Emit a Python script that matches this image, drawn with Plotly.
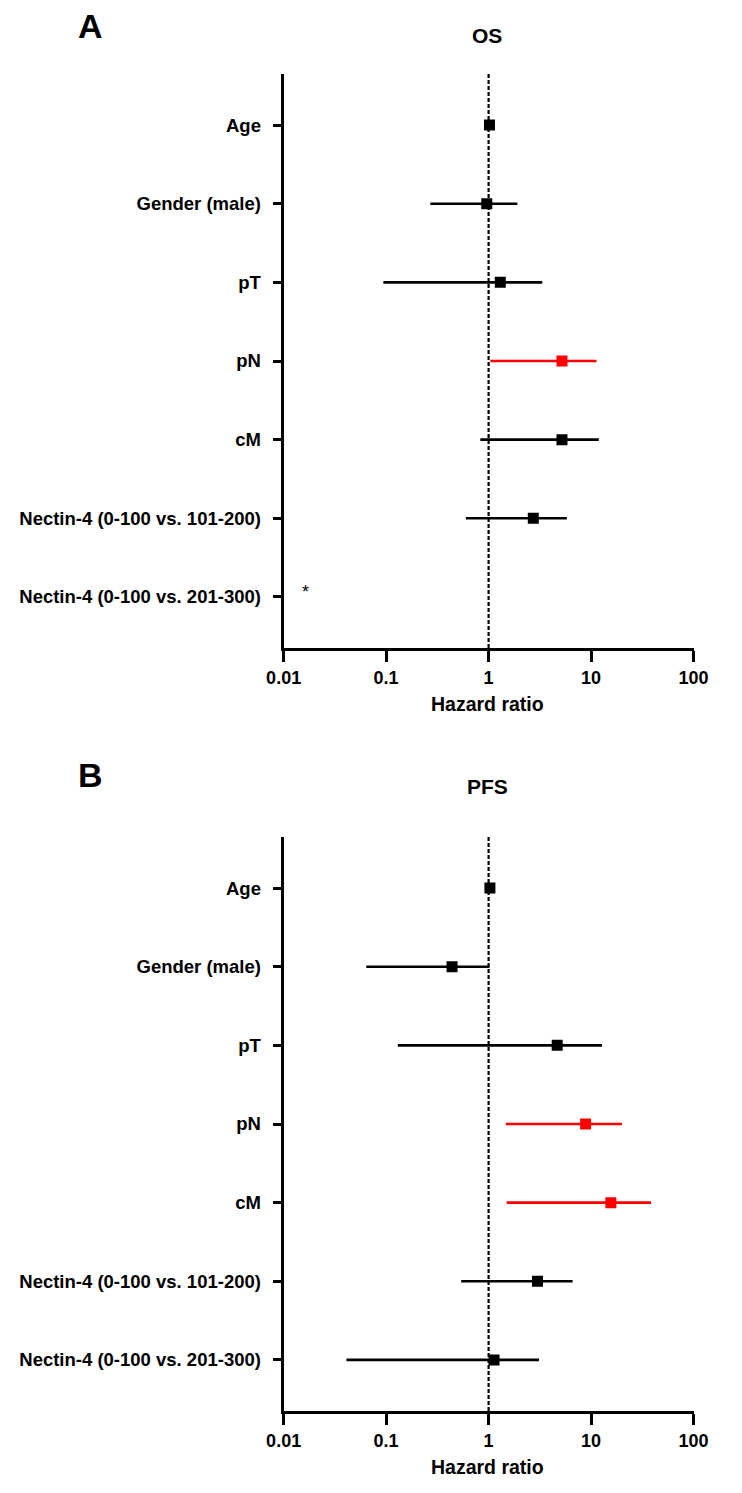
import math
import plotly.graph_objects as go

W, H = 742, 1493

categories = ["Age", "Gender (male)", "pT", "pN", "cM",
              "Nectin-4 (0-100 vs. 101-200)", "Nectin-4 (0-100 vs. 201-300)"]

# OS (panel A) - last category not estimable (*)
os_hr = [1.02, 0.96, 1.30, 5.2, 5.2, 2.73, None]
os_lo = [0.99, 0.27, 0.094, 1.04, 0.83, 0.60, None]
os_hi = [1.05, 1.91, 3.34, 11.3, 11.9, 5.8, None]
os_sig = [False, False, False, True, False, False, False]

# PFS (panel B)
pfs_hr = [1.03, 0.44, 4.67, 8.85, 15.6, 3.0, 1.13]
pfs_lo = [1.00, 0.064, 0.13, 1.47, 1.50, 0.54, 0.041]
pfs_hi = [1.06, 1.02, 12.8, 20.0, 38.5, 6.6, 3.1]
pfs_sig = [False, False, False, True, True, False, False]

x_ticks = [0.01, 0.1, 1, 10, 100]
x_ticktext = ["0.01", "0.1", "1", "10", "100"]

FONT = "Arial, Liberation Sans, sans-serif"
BLACK = "#000000"
RED = "#FF0000"

fig = go.Figure()


def add_panel(hr, lo, hi, sig, xa, ya):
    for color, flag in ((BLACK, False), (RED, True)):
        lx, ly, mx, my = [], [], [], []
        for c, h, l, u, s in zip(categories, hr, lo, hi, sig):
            if h is None or s != flag:
                continue
            lx += [l, u, None]
            ly += [c, c, None]
            mx.append(h)
            my.append(c)
        if mx:
            fig.add_trace(go.Scatter(x=lx, y=ly, mode="lines",
                                     line=dict(color=color, width=2.6),
                                     xaxis=xa, yaxis=ya, showlegend=False,
                                     hoverinfo="skip"))
            fig.add_trace(go.Scatter(x=mx, y=my, mode="markers",
                                     marker=dict(symbol="square", size=11, color=color,
                                                 line=dict(width=0)),
                                     xaxis=xa, yaxis=ya, showlegend=False))


add_panel(os_hr, os_lo, os_hi, os_sig, "x", "y")
add_panel(pfs_hr, pfs_lo, pfs_hi, pfs_sig, "x2", "y2")

xdom = [278 / W, 707 / W]
ydom_top = [1 - 648 / H, 1 - 74 / H]
ydom_bot = [1 - 1411 / H, 1 - 837 / H]

xaxis_common = dict(
    type="log", range=[-2, 2], tickvals=x_ticks, ticktext=x_ticktext,
    showline=True, linecolor=BLACK, linewidth=3, mirror=False,
    ticks="outside", ticklen=11, tickwidth=3, tickcolor=BLACK,
    showgrid=False, zeroline=False,
    tickfont=dict(family=FONT, size=18, color=BLACK, weight="bold"),
    domain=xdom, fixedrange=True,
)
yaxis_common = dict(
    type="category", categoryorder="array", categoryarray=categories,
    range=[6.65, -0.65],
    showline=True, linecolor=BLACK, linewidth=3,
    ticks="outside", ticklen=8, tickwidth=3, tickcolor=BLACK,
    ticklabelstandoff=8,
    showgrid=False, zeroline=False,
    tickfont=dict(family=FONT, size=18.5, color=BLACK, weight="bold"),
    fixedrange=True,
)

fig.update_layout(
    width=W, height=H, autosize=False,
    margin=dict(l=0, r=0, t=0, b=0),
    paper_bgcolor="white", plot_bgcolor="white",
    xaxis=dict(**xaxis_common, anchor="y"),
    yaxis=dict(**yaxis_common, domain=ydom_top, anchor="x"),
    xaxis2=dict(**xaxis_common, anchor="y2"),
    yaxis2=dict(**yaxis_common, domain=ydom_bot, anchor="x2"),
)

# dotted reference line at HR = 1
for xa, ya in (("x", "y"), ("x2", "y2")):
    fig.add_shape(type="line", xref=xa, yref=f"{ya} domain", x0=1, x1=1, y0=0, y1=1,
                  line=dict(color=BLACK, width=2.2, dash="4px,2px"), layer="below")

# asterisk for non-estimable estimate (OS, last row)
fig.add_annotation(x=math.log10(0.0163), y=categories[6], xref="x", yref="y",
                   text="*", showarrow=False, yshift=5,
                   font=dict(family=FONT, size=18, color=BLACK))


def paper_text(px, py, text, size):
    fig.add_annotation(x=px / W, y=1 - py / H, xref="paper", yref="paper",
                       text=f"<b>{text}</b>", showarrow=False,
                       xanchor="center", yanchor="middle",
                       font=dict(family=FONT, size=size, color=BLACK))


paper_text(76, 26, "A", 34)
paper_text(491, 36, "OS", 21)
paper_text(76, 775, "B", 34)
paper_text(491, 786, "PFS", 21)
paper_text(491, 704, "Hazard ratio", 19.5)
paper_text(491, 1467, "Hazard ratio", 19.5)

fig.write_html(
    "out.html",
    config={"responsive": False, "displayModeBar": False},
    post_script="document.body.style.margin='0';document.body.style.padding='0';"
                "document.body.style.overflow='hidden';",
)
